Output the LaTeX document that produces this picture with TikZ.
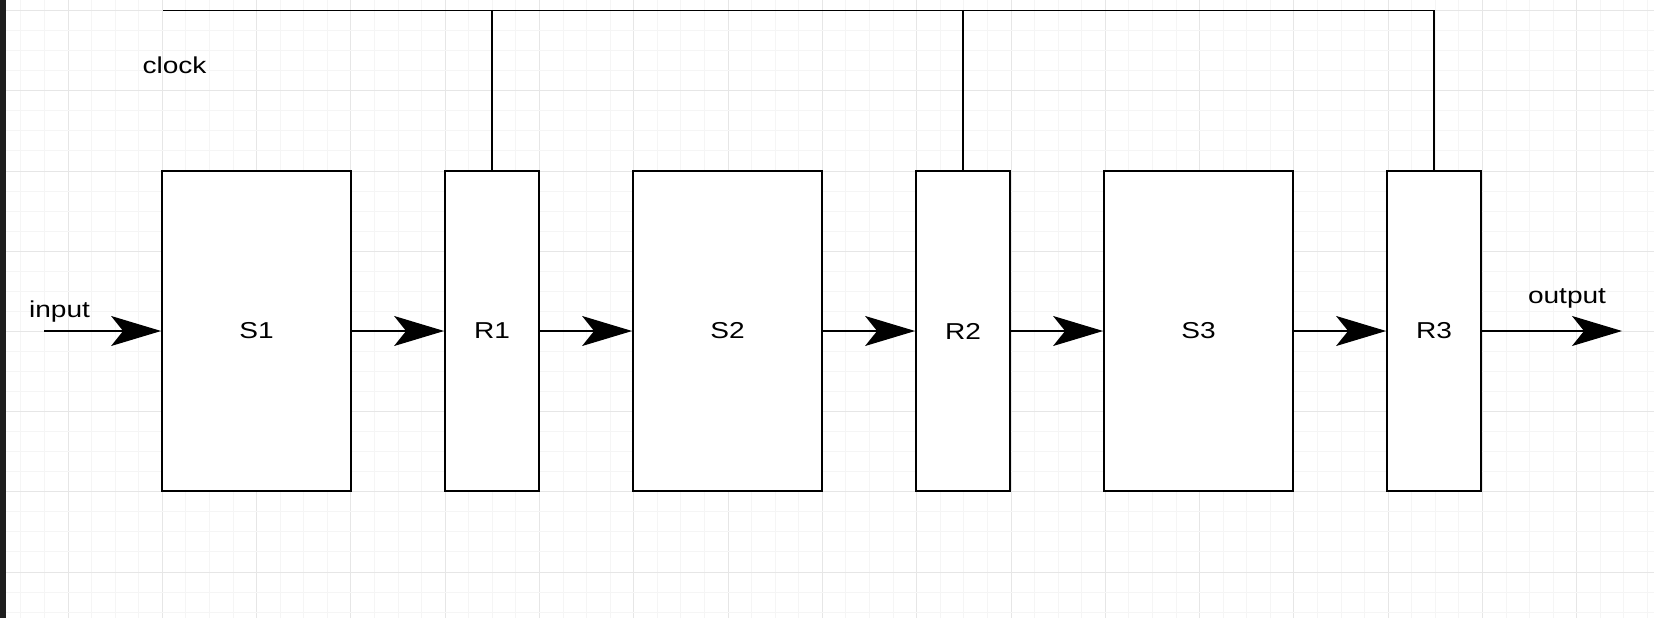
\documentclass[tikz,border=0pt]{standalone}
\usepackage{fontspec}
\setmainfont{Liberation Sans}[FakeStretch=1.22]
\usetikzlibrary{arrows.meta}
\definecolor{gridminor}{HTML}{F5F5F5}
\definecolor{gridmajor}{HTML}{E6E6E6}
\definecolor{sidebar}{HTML}{1E1E1E}
\tikzstyle{stage} = [rectangle, minimum width=189pt, minimum height=320pt, inner sep=0pt, text centered, draw=black, line width=1.8pt, fill=white]
\tikzstyle{register} = [rectangle, minimum width=94pt, minimum height=320pt, inner sep=0pt, text centered, draw=black, line width=1.8pt, fill=white]
\tikzstyle{lbl} = [anchor=base, inner sep=0pt]
\tikzstyle{wire} = [line width=1.8pt]
\tikzstyle{arrow} = [line width=1.4pt, -{Stealth[length=50pt, width=30pt, inset=12pt]}]

\begin{document}
\begin{tikzpicture}[x=1pt, y=-1pt, node distance=235.5pt, font=\fontsize{23}{27}\selectfont]
\useasboundingbox (0,0) rectangle (1654,618);
% background grid
\foreach \k in {-2,...,67} {
  \pgfmathsetmacro{\gx}{68+23.575*\k}
  \pgfmathparse{mod(\k+8,4)==0 ? "gridmajor" : "gridminor"}
  \draw [\pgfmathresult, line width=1pt] (\gx,0) -- (\gx,618);
}
\foreach \k in {0,...,30} {
  \pgfmathsetmacro{\gy}{10.6+20.05*\k}
  \pgfmathparse{mod(\k,4)==0 ? "gridmajor" : "gridminor"}
  \draw [\pgfmathresult, line width=1pt] (0,\gy) -- (1654,\gy);
}
\fill [sidebar] (0,0) rectangle (6,618);

\node (S1) [stage] at (256.5,331) {S1};
\node (R1) [register, right of=S1] {R1};
\node (S2) [stage, right of=R1] {S2};
\node (R2) [register, right of=S2] {R2};
\node (S3) [stage, right of=R2] {S3};
\node (R3) [register, right of=S3] {R3};

\coordinate (in) at (44,331);
\coordinate (out) at (1622,331);
\coordinate (clk) at (163,10.6);

\node (inlbl) [lbl] at (59.5,317) {input};
\node (outlbl) [lbl] at (1567,303) {output};
\node (clklbl) [lbl] at (174.5,74) {clock};

\draw [arrow] (in) -- (S1);
\draw [arrow] (S1) -- (R1);
\draw [arrow] (R1) -- (S2);
\draw [arrow] (S2) -- (R2);
\draw [arrow] (R2) -- (S3);
\draw [arrow] (S3) -- (R3);
\draw [arrow] (R3) -- (out);

\draw [wire] (clk) -| (R3.north);
\draw [wire] (R1.north) -- (R1.north |- clk);
\draw [wire] (R2.north) -- (R2.north |- clk);
\end{tikzpicture}
\end{document}
